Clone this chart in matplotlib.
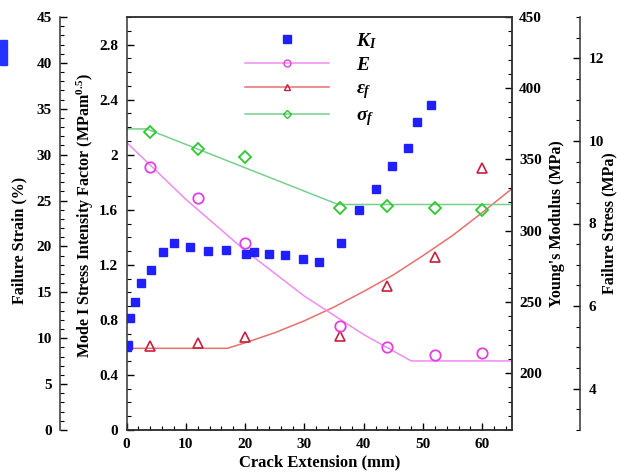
import matplotlib
matplotlib.use("Agg")
import matplotlib.pyplot as plt
from matplotlib.ticker import MultipleLocator, FuncFormatter
from matplotlib.lines import Line2D
from matplotlib.patches import Rectangle

plt.rcParams['font.family'] = ['Liberation Serif', 'DejaVu Serif']
plt.rcParams['font.weight'] = 'bold'
plt.rcParams['mathtext.fontset'] = 'custom'
plt.rcParams['mathtext.rm'] = 'Liberation Serif:bold'
plt.rcParams['mathtext.it'] = 'Liberation Serif:bold:italic'
plt.rcParams['mathtext.bf'] = 'Liberation Serif:bold'

# Stress intensity factor along the crack path
crack_k = [0.0, 0.3, 0.6, 1.5, 2.4, 4.2, 6.2, 8.0, 10.7, 13.8, 16.8, 20.2, 21.5,
           24.0, 26.8, 29.7, 32.5, 36.1, 39.2, 42.0, 44.8, 47.4, 49.0, 51.4]
k_values = [0.60, 0.62, 0.81, 0.93, 1.07, 1.16, 1.29, 1.36, 1.33, 1.30, 1.31, 1.28,
            1.29, 1.28, 1.27, 1.24, 1.22, 1.36, 1.60, 1.75, 1.92, 2.05, 2.24, 2.36]

# Tensile test positions and material properties
crack_tests = [4, 12, 20, 36, 44, 52, 60]
modulus = [345, 323, 291, 233, 218.5, 212.5, 214]
strain = [9.15, 9.45, 10.1, 10.2, 15.7, 18.8, 28.5]
stress = [10.22, 9.80, 9.62, 8.37, 8.43, 8.37, 8.33]

# Trend curves
modulus_fit_x = [0, 10, 20, 30, 40, 48, 65]
modulus_fit = [362, 322, 286, 254, 227, 208.5, 208.5]
strain_fit_x = [0, 17, 20, 25, 30, 35, 40, 45, 50, 55, 60, 65]
strain_fit = [8.9, 8.9, 9.5, 10.6, 11.9, 13.4, 15.1, 16.9, 19.0, 21.2, 23.7, 26.3]
stress_fit_x = [0, 3.4, 35.7, 65]
stress_fit = [10.29, 10.29, 8.46, 8.46]

c_k = '#1f1fff'
c_e = '#e040e0'
c_e_line = '#f08cf0'
c_eps = '#c8203c'
c_eps_line = '#e8706c'
c_sig = '#2ec82e'
c_sig_line = '#78d08c'

W, H = 617, 472
fig = plt.figure(figsize=(W / 100, H / 100), dpi=100)
left, right, top, bottom = 126.5, 512, 17, 430
ax = fig.add_axes([left / W, 1 - bottom / H, (right - left) / W, (bottom - top) / H])

ax_eps = ax.twinx()
ax_e = ax.twinx()
ax_sig = ax.twinx()

px2pt = 72 / 100

fmt = FuncFormatter(lambda v, p: f'{v:g}')


def style(a):
    a.tick_params(axis='y', which='major', length=5, width=1, direction='in', labelsize=11)
    a.tick_params(axis='y', which='minor', length=3, width=0.8, direction='in')
    for s in a.spines.values():
        s.set_linewidth(1.1)
        s.set_color('#333333')


# Main axis: stress intensity factor (drawn above the twins)
ax.set_zorder(5)
ax.patch.set_visible(False)
ax.set_xlim(0, 65)
ax.set_ylim(0, 3.0)
ax.xaxis.set_major_locator(MultipleLocator(10))
ax.xaxis.set_minor_locator(MultipleLocator(2))
ax.yaxis.set_major_locator(MultipleLocator(0.4))
ax.yaxis.set_minor_locator(MultipleLocator(0.1))
ax.yaxis.set_major_formatter(fmt)
ax.tick_params(axis='x', which='major', length=5, width=1, direction='in', labelsize=11, pad=6)
ax.tick_params(axis='x', which='minor', length=3, width=0.8, direction='in')
style(ax)
ax.tick_params(axis='y', pad=6)
ax.set_xlabel('Crack Extension (mm)', fontsize=12, fontweight='bold')
ax.set_ylabel('Mode I Stress Intensity Factor (MPam$^{0.5}$)', fontsize=11.5, fontweight='bold')
ax.xaxis.set_label_coords(0.5, -0.058)
ax.yaxis.set_label_coords(-0.078, 0.52)

# Failure strain on an offset left axis
ax_eps.set_ylim(0, 45)
ax_eps.yaxis.set_ticks_position('left')
ax_eps.yaxis.set_label_position('left')
ax_eps.spines['left'].set_visible(True)
ax_eps.spines['left'].set_position(('outward', 66.5 * px2pt))
ax_eps.spines['right'].set_visible(False)
ax_eps.spines['top'].set_visible(False)
ax_eps.spines['bottom'].set_visible(False)
ax_eps.yaxis.set_major_locator(MultipleLocator(5))
ax_eps.yaxis.set_minor_locator(MultipleLocator(1))
style(ax_eps)
ax_eps.tick_params(axis='y', pad=6)
ax_eps.set_ylabel('Failure Strain (%)', fontsize=11.5, fontweight='bold')
ax_eps.yaxis.set_label_coords(-0.258, 0.46)

# Young's modulus on the right edge of the frame
ax_e.set_ylim(160, 450)
ax_e.yaxis.set_major_locator(MultipleLocator(50))
ax_e.yaxis.set_minor_locator(MultipleLocator(10))
ax_e.spines['left'].set_visible(False)
style(ax_e)
ax_e.tick_params(axis='y', pad=5)
ax_e.set_ylabel("Young's Modulus (MPa)", fontsize=11.5, fontweight='bold')
ax_e.yaxis.set_label_coords(1.095, 0.5)

# Failure stress on an offset right axis
ax_sig.set_ylim(3, 13)
ax_sig.yaxis.set_ticks_position('right')
ax_sig.yaxis.set_label_position('right')
ax_sig.spines['right'].set_position(('outward', 68 * px2pt))
for s in ('left', 'top', 'bottom'):
    ax_sig.spines[s].set_visible(False)
ax_sig.yaxis.set_major_locator(MultipleLocator(2))
ax_sig.yaxis.set_minor_locator(MultipleLocator(0.5))
style(ax_sig)
ax_sig.tick_params(axis='y', pad=6)
ax_sig.set_ylabel('Failure Stress (MPa)', fontsize=11.5, fontweight='bold')
ax_sig.yaxis.set_label_coords(1.232, 0.5)

# Trend lines
ax_e.plot(modulus_fit_x, modulus_fit, color=c_e_line, lw=1.1, zorder=2)
ax_eps.plot(strain_fit_x, strain_fit, color=c_eps_line, lw=1.1, zorder=2)
ax_sig.plot(stress_fit_x, stress_fit, color=c_sig_line, lw=1.1, zorder=2)

# Measured points
ax_e.plot(crack_tests, modulus, 'o', ms=7.5, mfc='none', mec=c_e, mew=1.3, zorder=3)
ax_eps.plot(crack_tests, strain, '^', ms=7.5, mfc='none', mec=c_eps, mew=1.2, zorder=3)
ax_sig.plot(crack_tests, stress, 'D', ms=6.5, mfc='none', mec=c_sig, mew=1.3, zorder=3)
ax.plot(crack_k, k_values, 's', ms=5.2, color=c_k, mec=c_k, zorder=4)

handles = [
    Line2D([], [], ls='none', marker='s', ms=5.2, color=c_k),
    Line2D([], [], color=c_e_line, lw=1.1, marker='o', ms=5, mfc='none', mec=c_e),
    Line2D([], [], color=c_eps_line, lw=1.1, marker='^', ms=5, mfc='none', mec=c_eps),
    Line2D([], [], color=c_sig_line, lw=1.1, marker='D', ms=4.5, mfc='none', mec=c_sig),
]
labels = ['$K_I$', '$E$', r'$\varepsilon_f$', r'$\sigma_f$']
ax.legend(handles, labels, loc='upper left', bbox_to_anchor=(245 / W, 1 - 31 / H),
          bbox_transform=fig.transFigure, frameon=False, fontsize=14,
          handlelength=4.3, handletextpad=1.4, labelspacing=0.3,
          borderpad=0, borderaxespad=0, numpoints=1)

# Clipped mark at the upper-left edge of the page
fig.patches.append(Rectangle((0, 1 - 65 / H), 7 / W, 25 / H, transform=fig.transFigure,
                             color='#2233ff', zorder=0))

fig.savefig('out.png', dpi=100)
